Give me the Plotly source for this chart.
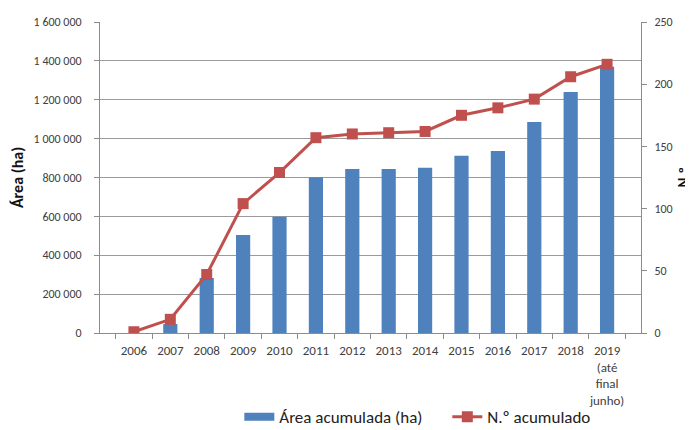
import plotly.graph_objects as go

years = ["2006", "2007", "2008", "2009", "2010", "2011", "2012", "2013", "2014",
         "2015", "2016", "2017", "2018", "2019<br>(até<br>final<br>junho)"]
area_acumulada = [0, 46000, 283000, 504000, 598000, 801000, 844000, 844000, 850000,
                  912000, 936000, 1086000, 1240000, 1370000]
n_acumulado = [1, 11, 47, 104, 129, 157, 160, 161, 162, 175, 181, 188, 206, 216]

font_fam = "Carlito, Calibri, Lato, 'Open Sans', sans-serif"
BLUE, RED = "#4F81BD", "#C0504D"

# page body has an 8px default margin, so the figure is sized 8px smaller
W, H = 685, 422
L, T, PW, PH = 92, 14, 541, 311

fig = go.Figure()
fig.add_trace(go.Bar(x=years, y=area_acumulada, name="Área acumulada (ha)",
                     marker=dict(color=BLUE, line=dict(width=0)), yaxis="y",
                     showlegend=False))
# legend proxy: wide blue rectangle like the reference legend key
fig.add_trace(go.Scatter(x=[years[0]], y=[None], name="Área acumulada (ha)", mode="lines",
                         line=dict(color=BLUE, width=8), yaxis="y", hoverinfo="skip"))
fig.add_trace(go.Scatter(x=years, y=n_acumulado, name="N.º acumulado", yaxis="y2",
                         mode="lines+markers",
                         line=dict(color=RED, width=3),
                         marker=dict(symbol="square", size=11, color=RED)))

fig.update_layout(
    width=W, height=H,
    margin=dict(l=L, r=W - L - PW, t=T, b=H - T - PH, autoexpand=False),
    paper_bgcolor="white", plot_bgcolor="white",
    separators=", ",
    font=dict(family=font_fam, size=12, color="#404040"),
    bargap=0.61,
    showlegend=True,
    legend=dict(orientation="h", x=0.642, y=-0.271, xanchor="center", yanchor="middle",
                font=dict(size=17, color="#222222"), traceorder="normal",
                bgcolor="rgba(0,0,0,0)",
                itemwidth=30, entrywidth=163, entrywidthmode="pixels"),
    xaxis=dict(showline=True, linecolor="#8c8c8c", linewidth=1, ticks="outside",
               tickson="boundaries", ticklen=5, tickcolor="#8c8c8c",
               tickangle=0, automargin=False, ticklabelstandoff=5,
               tickfont=dict(size=13), showgrid=False),
    yaxis=dict(range=[0, 1600000], dtick=200000, tickformat=",d",
               showline=True, linecolor="#8c8c8c", linewidth=1,
               ticks="outside", ticklen=5, tickcolor="#8c8c8c",
               ticklabelstandoff=10,
               showgrid=True, gridcolor="#9a9a9a", gridwidth=1,
               zeroline=False, automargin=False,
               title=dict(text="<b>Área (ha)</b>", font=dict(size=16, color="#111111"),
                          standoff=8)),
    yaxis2=dict(range=[0, 250], dtick=50, overlaying="y", side="right",
                showline=True, linecolor="#8c8c8c", linewidth=1,
                ticks="outside", ticklen=5, tickcolor="#8c8c8c",
                ticklabelstandoff=5, automargin=False,
                showgrid=False, zeroline=False),
)

fig.add_annotation(text="<b>N.º</b>", xref="paper", yref="paper",
                   x=(675 - L) / PW, y=0.50, textangle=-90, showarrow=False,
                   font=dict(size=15, color="#111111"), xanchor="center", yanchor="middle")

fig.write_html("out.html")
